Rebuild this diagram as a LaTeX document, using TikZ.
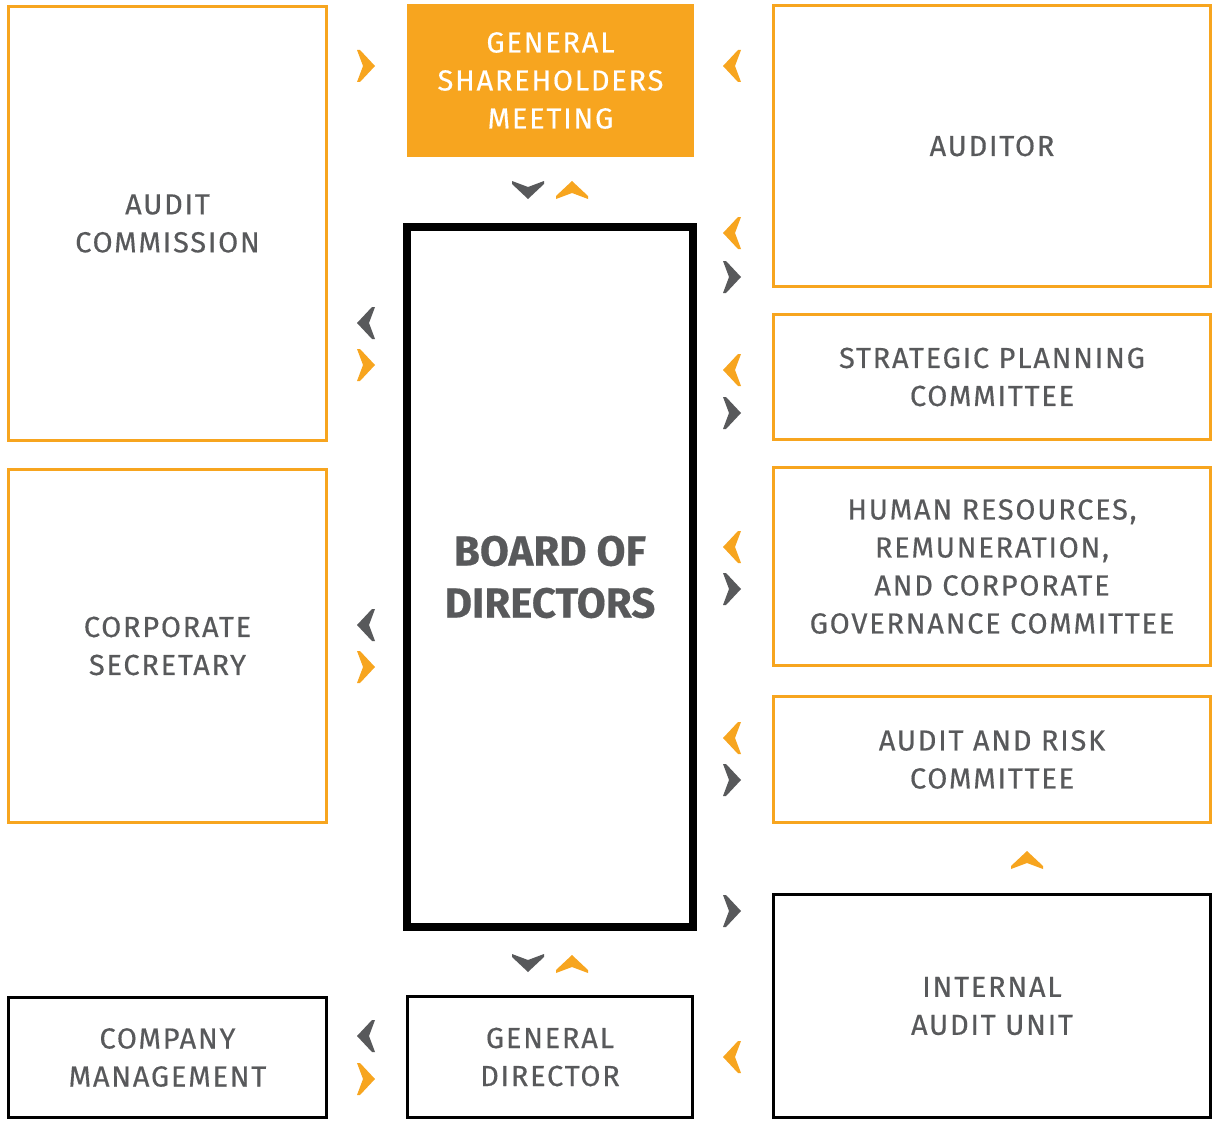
\documentclass[tikz,border=0pt]{standalone}
\usepackage{fontspec}
\setmainfont{Fira Sans}[LetterSpace=6, FakeBold=0.4]
\usetikzlibrary{positioning}
\definecolor{govorange}{HTML}{F7A51F}
\definecolor{govgray}{HTML}{58595B}

\begin{document}
\begin{tikzpicture}[
    x=1pt, y=-1pt,
    every node/.style={font=\fontsize{29}{38}\selectfont, text=govgray, align=center, inner sep=0pt},
    unit/.style={draw=govorange, line width=3pt},
    exec/.style={draw=black, line width=3pt},
    chev/.pic={\fill (-9,-16) -- (-6,-16) -- (9,0) -- (-6,16) -- (-9,16) -- (-3,0) -- cycle;}
]
\useasboundingbox (0,0) rectangle (1213,1121);

% Top row
\node[fill=govorange, text=white, minimum width=287pt, minimum height=153pt] (gsm) at (550.5,80.5)
    {GENERAL\\SHAREHOLDERS\\MEETING};
\node[unit, minimum width=318pt, minimum height=434pt] (audcom) at (167.5,223.5) {AUDIT\\COMMISSION};
\node[unit, minimum width=437pt, minimum height=281pt] (auditor) at (992,146) {AUDITOR};

% Board
\node[draw=black, line width=8pt, minimum width=286pt, minimum height=700pt,
      font=\fontsize{42}{52}\selectfont\bfseries\addfontfeatures{LetterSpace=0}] (board) at (550,577)
    {BOARD OF\\DIRECTORS};

% Committees
\node[unit, minimum width=437pt, minimum height=125pt] (strat) at (992,377) {STRATEGIC PLANNING\\COMMITTEE};
\node[unit, minimum width=437pt, minimum height=198pt] (hrcom) at (992,566.5)
    {HUMAN RESOURCES,\\REMUNERATION,\\AND CORPORATE\\GOVERNANCE COMMITTEE};
\node[unit, minimum width=437pt, minimum height=126pt] (riskcom) at (992,759.5) {AUDIT AND RISK\\COMMITTEE};
\node[unit, minimum width=318pt, minimum height=353pt] (corpsec) at (167.5,646) {CORPORATE\\SECRETARY};

% Executive bodies
\node[exec, minimum width=437pt, minimum height=223pt] (iau) at (992,1006) {INTERNAL\\AUDIT UNIT};
\node[exec, minimum width=318pt, minimum height=120pt] (mgmt) at (167.5,1057.5) {COMPANY\\MANAGEMENT};
\node[exec, minimum width=285pt, minimum height=121pt] (gendir) at (550,1057) {GENERAL\\DIRECTOR};

% Chevrons
\foreach \cx/\cy/\ang/\col in {
    366/66/0/govorange, 732/66/180/govorange,
    528/190/-90/govgray, 572/190/90/govorange,
    732/233/180/govorange, 732/277/0/govgray,
    366/323/180/govgray, 366/365/0/govorange,
    732/370/180/govorange, 732/413/0/govgray,
    732/547/180/govorange, 732/589/0/govgray,
    366/625/180/govgray, 366/667/0/govorange,
    732/738/180/govorange, 732/780/0/govgray,
    1027/860/90/govorange, 732/911/0/govgray,
    528/963/-90/govgray, 572/964/90/govorange,
    366/1036/180/govgray, 366/1079/0/govorange,
    732/1057/180/govorange}
    \pic[fill=\col, rotate=\ang] at (\cx,\cy) {chev};

\end{tikzpicture}
\end{document}
